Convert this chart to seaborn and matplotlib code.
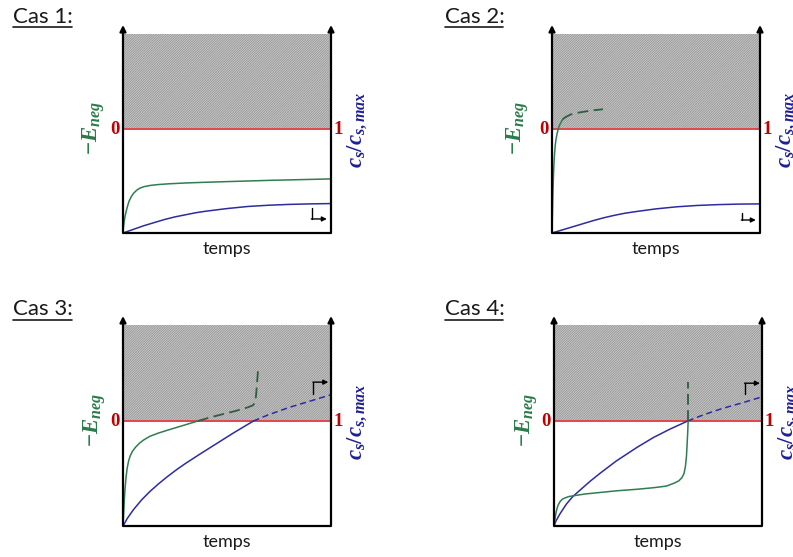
import matplotlib
matplotlib.use('Agg')
import matplotlib.pyplot as plt
import seaborn as sns
from matplotlib.lines import Line2D

W, H = 793, 557

sns.set_style('white')
plt.rcParams['font.family'] = ['Lato', 'DejaVu Sans']
plt.rcParams['mathtext.fontset'] = 'custom'
plt.rcParams['mathtext.rm'] = 'Liberation Serif:bold'
plt.rcParams['mathtext.it'] = 'Liberation Serif:italic:bold'
plt.rcParams['mathtext.bf'] = 'Liberation Serif:bold'
plt.rcParams['hatch.linewidth'] = 0.7

# ---------------- data ----------------
case_titles = ['Cas 1:', 'Cas 2:', 'Cas 3:', 'Cas 4:']
x_label = 'temps'
left_label = r'$-E_{neg}$'
right_label = r'$c_s/c_{s,max}$'
left_level = '0'
right_level = '1'

# Cas 1
c1_green_t = [0, 0.002, 0.005, 0.008, 0.012, 0.016, 0.02, 0.025, 0.03, 0.04, 0.05, 0.065,
              0.08, 0.1, 0.13, 0.17, 0.22, 0.3, 0.4, 0.55, 0.7, 0.85, 1.0]
c1_green_v = [0, 0.05, 0.10, 0.14, 0.18, 0.215, 0.245, 0.28, 0.31, 0.35, 0.38, 0.41,
              0.43, 0.445, 0.457, 0.466, 0.473, 0.481, 0.488, 0.497, 0.506, 0.513, 0.52]
c1_green_dash_t = []
c1_green_dash_v = []
c1_blue_t = [0, 0.05, 0.1, 0.15, 0.2, 0.25, 0.3, 0.35, 0.4, 0.5, 0.6, 0.7, 0.8, 0.9, 1.0]
c1_blue_v = [0, 0.035, 0.07, 0.10, 0.13, 0.155, 0.175, 0.195, 0.21, 0.235, 0.255, 0.267,
             0.275, 0.28, 0.283]
c1_blue_dash_t = []
c1_blue_dash_v = []

# Cas 2
c2_green_t = [0, 0.002, 0.004, 0.006, 0.008, 0.01, 0.013, 0.016, 0.02, 0.025, 0.03,
              0.037, 0.045, 0.052]
c2_green_v = [0, 0.18, 0.35, 0.49, 0.60, 0.69, 0.78, 0.85, 0.91, 0.96, 1.0,
              1.04, 1.07, 1.095]
c2_green_dash_t = [0.052, 0.07, 0.09, 0.12, 0.15, 0.19, 0.245]
c2_green_dash_v = [1.095, 1.12, 1.14, 1.155, 1.165, 1.178, 1.19]
c2_blue_t = [0, 0.05, 0.1, 0.15, 0.2, 0.25, 0.3, 0.35, 0.4, 0.5, 0.6, 0.7, 0.8, 0.9, 1.0]
c2_blue_v = [0, 0.03, 0.06, 0.09, 0.12, 0.147, 0.17, 0.19, 0.205, 0.232, 0.252, 0.265,
             0.273, 0.278, 0.28]
c2_blue_dash_t = []
c2_blue_dash_v = []

# Cas 3
c3_green_t = [0, 0.003, 0.006, 0.01, 0.015, 0.02, 0.027, 0.035, 0.045, 0.06, 0.08, 0.1,
              0.13, 0.17, 0.21, 0.26, 0.31, 0.36]
c3_green_v = [0, 0.12, 0.24, 0.36, 0.47, 0.55, 0.62, 0.67, 0.71, 0.75, 0.79, 0.82,
              0.855, 0.885, 0.91, 0.94, 0.97, 1.0]
c3_green_dash_t = [0.36, 0.42, 0.48, 0.54, 0.6, 0.625, 0.635, 0.64, 0.645, 0.65]
c3_green_dash_v = [1.0, 1.035, 1.065, 1.095, 1.13, 1.15, 1.18, 1.25, 1.38, 1.50]
c3_blue_t = [0, 0.02, 0.05, 0.09, 0.13, 0.17, 0.21, 0.26, 0.3, 0.37, 0.45, 0.53, 0.627]
c3_blue_v = [0, 0.07, 0.155, 0.25, 0.33, 0.40, 0.465, 0.54, 0.595, 0.685, 0.785, 0.885, 1.0]
c3_blue_dash_t = [0.627, 0.7, 0.8, 0.9, 1.0]
c3_blue_dash_v = [1.0, 1.06, 1.13, 1.19, 1.25]

# Cas 4
c4_green_t = [0, 0.005, 0.01, 0.015, 0.02, 0.03, 0.04, 0.05, 0.07, 0.1, 0.15, 0.2, 0.3,
              0.4, 0.48, 0.54, 0.58, 0.6, 0.615, 0.625, 0.632, 0.637, 0.64, 0.643, 0.645]
c4_green_v = [0, 0.07, 0.13, 0.17, 0.20, 0.235, 0.255, 0.265, 0.28, 0.29, 0.305, 0.315,
              0.335, 0.35, 0.365, 0.38, 0.41, 0.43, 0.46, 0.50, 0.57, 0.67, 0.78, 0.9, 1.0]
c4_green_dash_t = [0.645, 0.645]
c4_green_dash_v = [1.0, 1.37]
c4_blue_t = [0, 0.01, 0.03, 0.06, 0.09, 0.13, 0.17, 0.22, 0.3, 0.4, 0.48, 0.56, 0.643]
c4_blue_v = [0, 0.05, 0.12, 0.21, 0.28, 0.35, 0.42, 0.50, 0.62, 0.75, 0.845, 0.925, 1.0]
c4_blue_dash_t = [0.643, 0.72, 0.81, 0.9, 1.0]
c4_blue_dash_v = [1.0, 1.06, 1.12, 1.17, 1.23]

cases = [
    (c1_green_t, c1_green_v, c1_green_dash_t, c1_green_dash_v,
     c1_blue_t, c1_blue_v, c1_blue_dash_t, c1_blue_dash_v),
    (c2_green_t, c2_green_v, c2_green_dash_t, c2_green_dash_v,
     c2_blue_t, c2_blue_v, c2_blue_dash_t, c2_blue_dash_v),
    (c3_green_t, c3_green_v, c3_green_dash_t, c3_green_dash_v,
     c3_blue_t, c3_blue_v, c3_blue_dash_t, c3_blue_dash_v),
    (c4_green_t, c4_green_v, c4_green_dash_t, c4_green_dash_v,
     c4_blue_t, c4_blue_v, c4_blue_dash_t, c4_blue_dash_v),
]

# ---------------- layout (pixels) ----------------
panels_px = [(123, 331, 233, 25), (552, 760, 233, 25),
             (123, 331, 526, 316), (554, 762, 526, 316)]
title_px = [(13, 23, 72, 27), (445, 23, 503, 27), (13, 315, 72, 320), (445, 315, 503, 320)]
left_label_dx = [-29, -34, -28, -27]
hint_geom = [(0.907, 0.243, 0.135, 0.98), (0.912, 0.19, 0.125, 0.98),
             (0.915, 1.26, 1.37, 0.987), (0.918, 1.26, 1.36, 0.99)]

GREEN = '#2f7d50'
GREEN_D = '#2f5e40'
BLUE = '#2c2ca0'
RED_LINE = '#e0474c'
RED_TXT = '#c00000'
LBL_GREEN = '#2a7a4a'
LBL_BLUE = '#1e1e96'

fig = plt.figure(figsize=(W / 100, H / 100), dpi=100)


def fx(x):
    return x / W


def fy(y):
    return 1 - y / H


for i, (l, r, b, t) in enumerate(panels_px):
    ax = fig.add_axes([fx(l), fy(b), (r - l) / W, (b - t) / H])
    ax.set_xlim(0, 1)
    ax.set_ylim(0, 2.0)
    ax.axis('off')
    top = 2.0
    hatch_top = 1.91
    ax.fill_between([0, 1], [1, 1], [hatch_top, hatch_top], facecolor='#d0d0d0',
                    edgecolor='#999999', hatch='/' * 14, linewidth=0, zorder=1)
    ax.plot([0, 1], [1, 1], color=RED_LINE, lw=1.4, zorder=3)

    gt, gv, gdt, gdv, bt, bv, bdt, bdv = cases[i]
    sns.lineplot(x=bt, y=bv, ax=ax, color=BLUE, lw=1.1, estimator=None, sort=False, zorder=4)
    if bdt:
        sns.lineplot(x=bdt, y=bdv, ax=ax, color=BLUE, lw=1.1, estimator=None, sort=False,
                     linestyle=(0, (4, 2.5)), zorder=4)
    sns.lineplot(x=gt, y=gv, ax=ax, color=GREEN, lw=1.1, estimator=None, sort=False, zorder=5)
    if gdt:
        sns.lineplot(x=gdt, y=gdv, ax=ax, color=GREEN_D, lw=1.3, estimator=None, sort=False,
                     linestyle=(0, (6, 3)), zorder=5)

    ax.plot([0, 1], [0, 0], color='black', lw=1.6, zorder=6, clip_on=False,
            solid_capstyle='butt')
    for xa in (0, 1):
        ax.annotate('', xy=(xa, top), xytext=(xa, 0),
                    arrowprops=dict(arrowstyle='-|>', color='black', lw=1.6,
                                    mutation_scale=9, shrinkA=0, shrinkB=0),
                    zorder=6, annotation_clip=False)

    hx, hy0, hy1, hx1 = hint_geom[i]
    ax.plot([hx, hx], [hy0, hy1], color='black', lw=1.0, zorder=6, clip_on=False)
    ax.annotate('', xy=(hx1, hy1), xytext=(hx - 0.002, hy1),
                arrowprops=dict(arrowstyle='-|>', color='black', lw=1.0,
                                mutation_scale=7, shrinkA=0, shrinkB=0),
                zorder=6, annotation_clip=False)

    red_y = b - (b - t) / 2.0
    fig.text(fx(l + left_label_dx[i]), fy(red_y - 1), left_label, rotation=90,
             ha='center', va='center', color=LBL_GREEN, fontsize=16.5)
    fig.text(fx(l - 8), fy(red_y), left_level, ha='center', va='center',
             color=RED_TXT, fontsize=13.5, family='Liberation Serif', weight='bold')
    fig.text(fx(r + 7), fy(red_y), right_level, ha='center', va='center',
             color=RED_TXT, fontsize=13.5, family='Liberation Serif', weight='bold')
    fig.text(fx(r + 26), fy(red_y + 1), right_label, rotation=90,
             ha='center', va='center', color=LBL_BLUE, fontsize=16.5)
    fig.text(fx((l + r) / 2), fy(b + 16), x_label, ha='center', va='center',
             fontsize=13, color='#1a1a1a')

    tx, ty, ux1, uy = title_px[i]
    fig.text(fx(tx), fy(ty), case_titles[i], ha='left', va='baseline',
             fontsize=16, color='#1a1a1a')
    fig.add_artist(Line2D([fx(tx), fx(ux1)], [fy(uy), fy(uy)], color='#1a1a1a', lw=1.2))

fig.savefig('out.png', dpi=100)
